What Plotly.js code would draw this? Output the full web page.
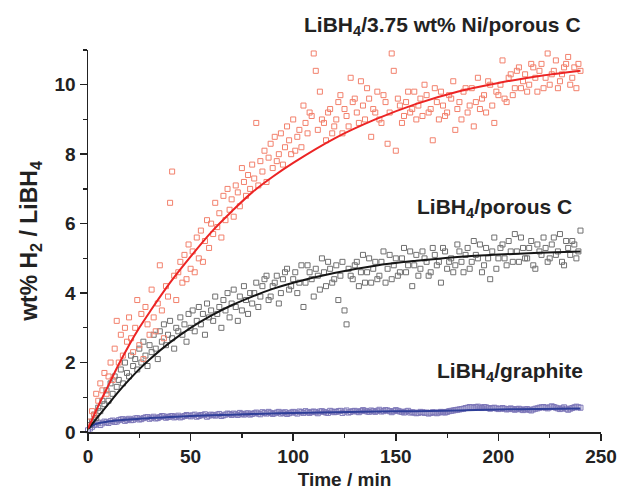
<!DOCTYPE html>
<html>
<head>
<meta charset="utf-8">
<script src="https://cdn.plot.ly/plotly-3.0.1.min.js"></script>
<style>html,body{margin:0;padding:0;background:#fff;}#chart{width:622px;height:494px;}</style>
</head>
<body>
<div id="chart"></div>
<script>
// ---- LiBH4/3.75 wt% Ni/porous C : measured points ----
var niTime = [1,2,3,4,5,6,7,8,9,10,11,12,13,14,15,16,17,18,19,20,21,22,23,24,25,26,27,28,29,30,31,32,33,34,35,36,37,38,39,40,41,42,43,44,45,46,47,48,49,50,51,52,53,54,55,56,57,58,59,60,61,62,63,64,65,66,67,68,69,70,71,72,73,74,75,76,77,78,79,80,81,82,83,84,85,86,87,88,89,90,91,92,93,94,95,96,97,98,99,100,102,104,106,108,110,111,112,114,116,118,120,122,124,126,128,130,132,134,136,138,140,142,144,146,148,150,152,154,156,158,160,162,164,166,168,170,172,174,176,178,180,182,184,186,188,190,192,194,196,198,200,202,204,206,208,210,212,214,216,218,220,222,224,226,228,230,232,234,236,238,239,240,
101,103,105,107,109,113,115,117,119,121,123,125,127,129,131,133,135,137,139,141,143,145,147,149,151,153,155,157,159,161,163,165,167,169,171,173,175,177,179,181,183,185,187,189,191,193,195,197,199,201,203,205,207,209,211,213,215,217,219,221,223,225,227,229,231,233,235,237];
var niWt = [0.3,0.6,0.5,1.1,0.9,1.4,1.2,1.7,1.1,1.6,2.0,1.5,2.4,3.2,2.0,2.8,2.2,3.0,2.6,3.3,2.7,2.3,3.0,3.8,2.5,3.4,2.1,3.6,3.1,2.8,4.1,3.3,2.9,3.7,4.8,3.5,2.7,4.2,3.9,6.6,7.5,4.5,3.8,4.6,4.9,4.3,5.1,4.4,5.4,4.7,5.2,4.6,5.6,5.0,5.8,4.9,5.5,6.1,5.3,6.0,5.7,6.6,5.9,6.3,5.6,6.8,6.1,7.0,6.4,6.7,6.2,7.1,6.9,6.5,7.6,7.2,6.8,7.4,7.0,7.7,7.3,8.9,7.1,7.8,7.5,8.1,7.2,7.9,8.3,7.6,8.5,7.8,8.0,8.6,7.7,8.2,8.8,8.4,8.0,9.0,8.5,8.2,8.9,9.2,10.9,10.4,8.7,9.0,8.4,9.3,8.8,9.5,8.6,9.1,10.2,9.6,8.9,9.4,9.9,8.5,9.2,9.0,9.7,8.3,10.9,8.1,9.4,9.1,9.8,9.3,9.0,9.6,10.0,9.2,8.4,9.5,9.8,9.1,9.7,10.1,9.3,9.0,9.9,9.4,8.8,10.2,9.6,9.2,10.0,8.9,9.7,10.7,9.5,10.3,9.9,10.5,10.1,9.8,10.6,10.2,10.4,9.9,10.9,10.3,10.7,10.1,10.5,10.8,10.2,9.9,10.6,10.4,
8.1,8.7,9.4,8.6,9.1,9.8,8.9,9.2,8.6,9.0,9.7,9.3,8.8,9.5,9.2,10.1,9.0,9.6,9.3,9.8,8.9,9.5,9.2,10.4,9.6,8.9,9.5,9.2,9.8,9.4,9.1,9.7,9.3,9.9,9.0,9.4,9.2,9.6,8.7,9.5,9.8,9.2,9.9,9.5,9.3,9.7,10.1,9.4,9.8,10.0,9.6,10.2,9.7,10.4,9.9,10.3,10.0,10.5,9.8,10.6,10.2,10.0,10.4,9.9,10.3,10.6,10.0,10.5];
var niFitTime = [0,5,10,15,20,25,30,40,50,60,70,80,90,100,120,140,160,180,200,220,240];
var niFitWt   = [0.1,0.75,1.35,1.95,2.5,3.0,3.45,4.3,5.05,5.75,6.35,6.9,7.35,7.75,8.45,9.0,9.45,9.8,10.05,10.25,10.4];

// ---- LiBH4/porous C ----
var pcTime = [1,2,3,4,5,6,7,8,9,10,11,12,13,14,15,16,17,18,19,20,21,22,23,24,25,26,27,28,29,30,31,32,33,34,35,36,37,38,39,40,41,42,43,44,45,46,47,48,49,50,51,52,53,54,55,56,57,58,59,60,61,62,63,64,65,66,67,68,69,70,71,72,73,74,75,76,77,78,79,80,82,84,86,88,90,92,94,96,98,100,102,104,106,108,110,112,114,116,118,120,122,124,126,128,130,132,134,136,138,140,142,144,146,148,150,152,154,156,158,160,162,164,166,168,170,172,174,176,178,180,182,184,186,188,190,192,194,196,198,200,202,204,206,208,210,212,214,216,218,220,222,224,226,228,230,232,234,236,238,240,
81,83,85,87,89,91,93,95,97,99,101,103,105,107,109,111,113,115,117,119,121,123,125,127,129,131,133,135,137,139,141,143,145,147,149,151,153,155,157,159,161,163,165,167,169,171,173,175,177,179,181,183,185,187,189,191,193,195,197,199,201,203,205,207,209,211,213,215,217,219,221,223,225,227,229,231,233,235,237,239];
var pcWt = [0.2,0.3,0.5,0.4,0.7,0.6,0.9,0.8,1.2,0.9,1.4,1.1,1.6,1.3,1.5,1.8,1.4,2.0,1.7,1.6,2.2,1.9,2.1,1.8,2.4,2.0,2.6,2.2,1.9,2.5,2.3,2.8,2.4,2.1,2.9,2.6,3.1,2.5,2.8,3.2,2.7,2.4,3.0,2.9,3.3,2.8,3.1,2.6,3.4,3.0,3.5,2.9,3.2,3.6,3.1,3.4,2.8,3.7,3.3,3.5,3.2,3.9,3.4,3.6,3.0,3.8,3.5,4.0,3.3,3.7,4.1,3.6,3.2,3.9,3.5,4.2,3.8,3.4,4.0,3.7,4.3,3.9,4.4,3.8,4.2,4.5,4.0,4.6,4.1,4.4,4.0,4.8,4.3,4.6,3.9,4.5,5.0,4.2,4.7,4.4,3.8,4.9,3.1,4.5,4.8,4.2,5.1,4.6,4.3,4.9,4.5,5.2,4.7,4.4,5.0,4.6,5.3,4.8,4.2,5.1,4.7,5.0,4.5,5.3,4.8,4.3,5.2,4.9,4.6,5.4,4.9,5.1,4.7,5.5,5.0,4.6,5.3,4.4,5.6,5.0,5.4,4.8,5.2,5.7,4.9,5.3,5.0,5.5,4.7,5.2,5.6,4.9,5.4,5.1,5.7,4.8,5.3,5.5,5.0,5.8,
4.0,3.6,4.2,4.5,3.9,4.3,3.7,4.4,4.7,4.2,4.6,4.3,3.6,4.8,4.4,4.7,4.1,4.6,4.9,4.3,4.8,4.5,3.5,4.7,4.4,4.9,4.6,4.3,5.0,4.7,4.4,4.9,4.3,5.1,4.8,4.5,5.0,4.6,5.2,4.8,4.5,5.2,4.9,4.6,5.1,4.9,5.3,4.7,5.0,4.8,5.2,4.6,5.3,4.9,5.1,5.4,4.8,5.0,5.2,4.7,5.3,5.0,5.5,4.9,5.2,5.6,5.0,5.3,4.8,5.4,5.1,5.3,5.0,5.6,5.2,4.9,5.5,5.1,5.4,5.2];
var pcFitTime = [0,5,10,15,20,25,30,40,50,60,70,80,90,100,120,140,160,180,200,220,240];
var pcFitWt   = [0.08,0.45,0.81,1.17,1.5,1.81,2.09,2.58,3.0,3.35,3.65,3.9,4.12,4.3,4.58,4.79,4.93,5.04,5.11,5.16,5.2];

// ---- LiBH4/graphite ----
var grTime = [0,2,4,6,8,10,12,14,16,18,20,22,24,26,28,30,32,34,36,38,40,42,44,46,48,50,52,54,56,58,60,62,64,66,68,70,72,74,76,78,80,82,84,86,88,90,92,94,96,98,100,102,104,106,108,110,112,114,116,118,120,122,124,126,128,130,132,134,136,138,140,142,144,146,148,150,152,154,156,158,160,162,164,166,168,170,172,174,176,178,180,182,184,186,188,190,192,194,196,198,200,202,204,206,208,210,212,214,216,218,220,222,224,226,228,230,232,234,236,238,240,
1,3,5,7,9,11,13,15,17,19,21,23,25,27,29,31,33,35,37,39,41,43,45,47,49,51,53,55,57,59,61,63,65,67,69,71,73,75,77,79,81,83,85,87,89,91,93,95,97,99,101,103,105,107,109,111,113,115,117,119,121,123,125,127,129,131,133,135,137,139,141,143,145,147,149,151,153,155,157,159,161,163,165,167,169,171,173,175,177,179,181,183,185,187,189,191,193,195,197,199,201,203,205,207,209,211,213,215,217,219,221,223,225,227,229,231,233,235,237,239];
var grWt = [0.05,0.15,0.22,0.2,0.3,0.26,0.33,0.3,0.36,0.32,0.38,0.35,0.4,0.37,0.42,0.38,0.44,0.4,0.46,0.41,0.45,0.42,0.47,0.44,0.49,0.45,0.5,0.46,0.48,0.44,0.5,0.47,0.52,0.48,0.53,0.49,0.51,0.55,0.5,0.54,0.52,0.56,0.51,0.55,0.58,0.52,0.56,0.53,0.57,0.54,0.58,0.53,0.57,0.6,0.55,0.59,0.54,0.6,0.56,0.61,0.57,0.6,0.55,0.62,0.58,0.61,0.57,0.63,0.59,0.62,0.58,0.64,0.6,0.62,0.57,0.63,0.59,0.56,0.61,0.57,0.54,0.58,0.55,0.53,0.57,0.54,0.58,0.56,0.6,0.62,0.64,0.66,0.69,0.72,0.7,0.73,0.69,0.71,0.67,0.7,0.66,0.69,0.65,0.68,0.64,0.67,0.63,0.66,0.62,0.67,0.7,0.72,0.68,0.74,0.7,0.66,0.71,0.64,0.69,0.73,0.7,
0.1,0.2,0.27,0.25,0.28,0.31,0.29,0.34,0.37,0.35,0.34,0.39,0.36,0.4,0.43,0.41,0.39,0.43,0.45,0.43,0.46,0.44,0.42,0.46,0.47,0.48,0.44,0.49,0.51,0.47,0.49,0.5,0.46,0.5,0.52,0.53,0.49,0.52,0.53,0.5,0.54,0.53,0.57,0.53,0.55,0.54,0.58,0.55,0.52,0.56,0.56,0.59,0.55,0.57,0.58,0.57,0.59,0.58,0.55,0.59,0.58,0.61,0.59,0.56,0.6,0.59,0.6,0.61,0.58,0.6,0.61,0.59,0.63,0.6,0.6,0.61,0.58,0.59,0.56,0.56,0.55,0.57,0.56,0.55,0.56,0.56,0.57,0.58,0.61,0.63,0.65,0.67,0.7,0.71,0.72,0.7,0.72,0.69,0.69,0.68,0.67,0.67,0.66,0.66,0.66,0.65,0.65,0.64,0.65,0.68,0.71,0.7,0.71,0.72,0.68,0.68,0.67,0.67,0.71,0.71];
var grFitTime = [0,2,5,10,20,30,40,50,60,70,80,100,120,140,160,180,200,220,240];
var grFitWt   = [0.1,0.18,0.25,0.3,0.36,0.4,0.43,0.46,0.48,0.5,0.52,0.55,0.57,0.59,0.6,0.62,0.65,0.66,0.68];

var labels = ['LiBH<sub>4</sub>/3.75 wt% Ni/porous C', 'LiBH<sub>4</sub>/porous C', 'LiBH<sub>4</sub>/graphite'];

var FONT = 'Liberation Sans, Arial, Helvetica, sans-serif';

function pts(x, y, color) {
  return {x: x, y: y, type: 'scatter', mode: 'markers', cliponaxis: false,
    marker: {symbol: 'square-open', size: 5, color: color, line: {width: 1, color: color}},
    hoverinfo: 'skip', showlegend: false};
}
function fit(x, y, color) {
  return {x: x, y: y, type: 'scatter', mode: 'lines',
    line: {color: color, width: 2, shape: 'spline', smoothing: 1}, showlegend: false};
}

var data = [
  pts(grTime, grWt, '#7d77b8'),
  pts(pcTime, pcWt, '#707070'),
  pts(niTime, niWt, '#f2806c'),
  fit(grFitTime, grFitWt, '#2e3e98'),
  fit(pcFitTime, pcFitWt, '#151515'),
  fit(niFitTime, niFitWt, '#ec2424')
];

var axisCommon = {
  showline: true, linecolor: '#222', linewidth: 1.5, mirror: false,
  showgrid: false, zeroline: false,
  ticks: 'outside', ticklen: 7, tickwidth: 1.5, tickcolor: '#222',
  tickfont: {family: FONT, size: 19, color: '#222', weight: 'bold'}
};

var annFont = {family: FONT, size: 21, color: '#222', weight: 'bold'};

var layout = {
  width: 622, height: 494,
  margin: {l: 88, r: 21, t: 50, b: 62},
  paper_bgcolor: '#fff', plot_bgcolor: '#fff',
  xaxis: Object.assign({}, axisCommon, {
    range: [0, 250], dtick: 50, tick0: 0,
    minor: {dtick: 25, ticks: 'outside', ticklen: 4, tickwidth: 1.2, tickcolor: '#222', showgrid: false},
    title: {text: 'Time / min', font: {family: FONT, size: 19, color: '#222', weight: 'bold'}, standoff: 6}
  }),
  yaxis: Object.assign({}, axisCommon, {
    range: [0, 11], dtick: 2, tick0: 0,
    minor: {dtick: 1, ticks: 'outside', ticklen: 4, tickwidth: 1.2, tickcolor: '#222', showgrid: false},
    title: {text: 'wt% H<sub>2</sub> / LiBH<sub>4</sub>', font: {family: FONT, size: 23, color: '#222', weight: 'bold'}, standoff: 10}
  }),
  annotations: [
    {text: labels[0], xref: 'paper', yref: 'paper', x: 0.965, y: 1.062, xanchor: 'right', yanchor: 'middle', showarrow: false, font: annFont},
    {text: labels[1], xref: 'x', yref: 'y', x: 237, y: 6.45, xanchor: 'right', yanchor: 'middle', showarrow: false, font: annFont},
    {text: labels[2], xref: 'x', yref: 'y', x: 242, y: 1.72, xanchor: 'right', yanchor: 'middle', showarrow: false, font: annFont}
  ]
};

Plotly.newPlot('chart', data, layout, {displayModeBar: false, staticPlot: true});
</script>
</body>
</html>
